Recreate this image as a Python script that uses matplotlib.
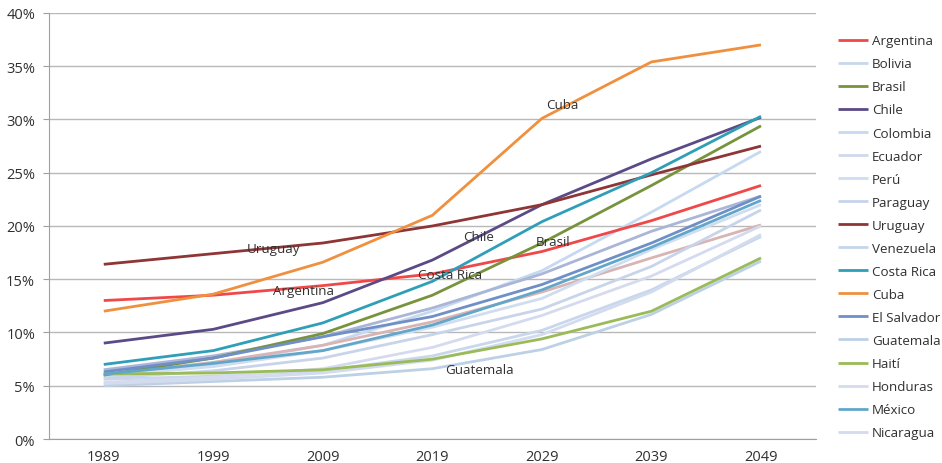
import matplotlib
matplotlib.use("Agg")
import matplotlib.pyplot as plt
from matplotlib.ticker import FuncFormatter

plt.rcParams['font.family'] = ['Open Sans', 'DejaVu Sans']

years = ["1989", "1999", "2009", "2019", "2029", "2039", "2049"]

countries = ["Argentina", "Bolivia", "Brasil", "Chile", "Colombia", "Ecuador",
             "Perú", "Paraguay", "Uruguay", "Venezuela", "Costa Rica", "Cuba",
             "El Salvador", "Guatemala", "Haití", "Honduras", "México", "Nicaragua"]

# Share of the population (%) per year
argentina   = [13.0, 13.5, 14.4, 15.5, 17.6, 20.5, 23.8]
bolivia     = [5.6, 5.9, 6.4, 7.8, 10.2, 14.0, 19.0]
brasil      = [6.0, 7.6, 9.9, 13.5, 18.4, 23.8, 29.4]
chile       = [9.0, 10.3, 12.8, 16.8, 22.0, 26.3, 30.2]
colombia    = [6.0, 7.0, 8.8, 12.0, 15.8, 21.3, 27.0]
ecuador     = [6.0, 7.2, 8.8, 11.0, 13.8, 17.0, 20.1]
peru        = [5.9, 6.8, 8.3, 10.5, 13.2, 17.8, 22.0]
paraguay    = [5.7, 6.4, 7.6, 9.8, 12.2, 16.2, 21.5]
uruguay     = [16.4, 17.4, 18.4, 20.0, 22.0, 24.8, 27.5]
venezuela   = [6.5, 7.8, 9.6, 12.3, 15.5, 19.5, 22.8]
costa_rica  = [7.0, 8.3, 10.9, 14.8, 20.4, 25.0, 30.3]
cuba        = [12.0, 13.6, 16.6, 21.0, 30.1, 35.4, 37.0]
el_salvador = [6.3, 7.6, 9.6, 11.5, 14.5, 18.4, 22.8]
guatemala   = [5.0, 5.4, 5.8, 6.6, 8.4, 11.7, 16.7]
haiti       = [6.1, 6.2, 6.5, 7.5, 9.4, 12.0, 17.0]
honduras    = [5.2, 5.6, 6.2, 7.4, 9.8, 13.8, 19.2]
mexico      = [6.1, 7.1, 8.3, 10.7, 14.0, 18.0, 22.4]
nicaragua   = [5.3, 5.8, 6.6, 8.6, 11.6, 15.3, 20.0]

series = [argentina, bolivia, brasil, chile, colombia, ecuador, peru, paraguay,
          uruguay, venezuela, costa_rica, cuba, el_salvador, guatemala, haiti,
          honduras, mexico, nicaragua]

line_colors = ["#f04848", "#c9d7ec", "#77933c", "#5b4a86", "#c6d9f0", "#d8b4b4",
               "#cfddf0", "#c8d4ea", "#8e3535", "#aab6d8", "#2f9fb7", "#f0903e",
               "#6f8fc6", "#bcd0e6", "#9bbb59", "#d3dcef", "#62a6ca", "#d5dbee"]
legend_colors = list(line_colors)
legend_colors[5] = "#d0d8ea"
legend_colors[9] = "#c5d6ea"

strong = {"Argentina", "Brasil", "Chile", "Uruguay", "Costa Rica", "Cuba",
          "El Salvador", "Haití", "México"}

annotations = [("Cuba", 4.19, 31.4), ("Uruguay", 1.55, 17.9), ("Chile", 3.42, 19.0),
               ("Brasil", 4.10, 18.5), ("Costa Rica", 3.16, 15.4),
               ("Argentina", 1.82, 13.9), ("Guatemala", 3.43, 6.5)]

fig = plt.figure(figsize=(9.42, 4.64), dpi=100)
ax = fig.add_axes([0.052, 0.0517, 0.814, 0.9183])

x = list(range(len(years)))
for name, vals, col in zip(countries, series, line_colors):
    ax.plot(x, vals, color=col, lw=2.0, label=name,
            zorder=3 if name in strong else 2, solid_capstyle='butt')

for txt, tx, ty in annotations:
    ax.text(tx, ty, txt, ha='center', va='center', fontsize=9.6, color='#303030', zorder=5)

ax.set_xlim(-0.5, 6.5)
ax.set_ylim(0, 40)
ax.set_yticks(range(0, 41, 5))
ax.yaxis.set_major_formatter(FuncFormatter(lambda v, p: f"{int(v)}%"))
ax.set_xticks(x)
ax.set_xticklabels(years)
ax.grid(axis='y', color='#b8b8b8', lw=1.0, zorder=0)
ax.set_axisbelow(True)
for s in ['top', 'right']:
    ax.spines[s].set_visible(False)
for s in ['left', 'bottom']:
    ax.spines[s].set_color('#a0a0a0')
ax.tick_params(axis='y', length=4, color='#a0a0a0', labelsize=10.5, labelcolor='#303030', pad=6)
ax.tick_params(axis='x', length=0, labelsize=10.5, labelcolor='#303030', pad=7)

leg = ax.legend(loc='upper left', bbox_to_anchor=(0.8896, 0.924),
                bbox_transform=fig.transFigure, frameon=False, fontsize=9.6,
                labelspacing=0.755, handlelength=2.25, handletextpad=0.3,
                borderaxespad=0, borderpad=0)
for h, c in zip(leg.get_lines(), legend_colors):
    h.set_color(c)
    h.set_linewidth(2.0)
for t in leg.get_texts():
    t.set_color('#303030')

fig.savefig("out.png", dpi=100)
